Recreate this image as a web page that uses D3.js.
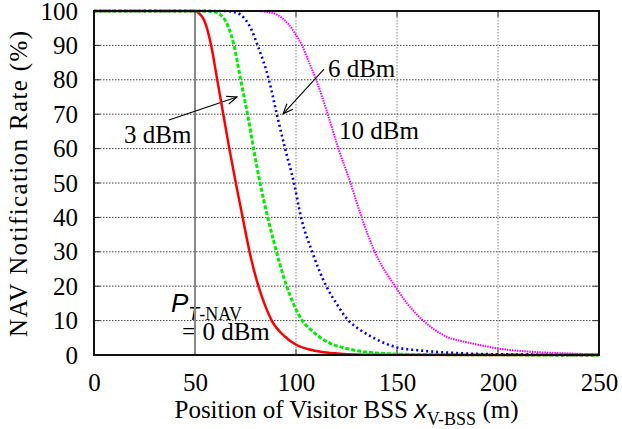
<!DOCTYPE html>
<html><head><meta charset="utf-8">
<script src="https://cdn.jsdelivr.net/npm/d3@7"></script>
<style>body{margin:0;background:#fff}svg{display:block}</style>
</head><body><svg id="c" width="622" height="429"></svg>
<script>
const xTicks = [0, 50, 100, 150, 200, 250];
const yTicks = [0, 10, 20, 30, 40, 50, 60, 70, 80, 90, 100];

const x0dBm = [0, 50, 52, 54.5, 58, 61, 64, 67, 70.2, 73.6, 77, 81.4, 84.3, 88, 94.6, 100.3, 107.8, 115, 125, 140, 250];
const y0dBm = [100, 100, 99.3, 97.4, 90, 80, 70, 60, 50, 40, 30, 20, 15, 10, 5.3, 2.9, 1.45, 0.7, 0.25, 0.05, 0];

const x3dBm = [0, 55, 60, 62.4, 66.5, 69.3, 72.6, 76, 79, 82.2, 86, 88.8, 95.4, 103.1, 108, 112, 117, 125, 133, 142, 160, 250];
const y3dBm = [100, 100, 99.7, 99, 95.4, 90, 80, 70, 60, 50, 40, 33.4, 20, 10, 7, 5.1, 3.4, 1.9, 1, 0.5, 0.15, 0];

const x6dBm = [0, 65, 70.6, 75, 78, 81, 86.6, 90.5, 94.6, 99, 102.5, 108, 115, 120, 126, 132, 138, 150, 160, 175, 200, 250];
const y6dBm = [100, 100, 99.5, 97.5, 94.5, 90, 80, 70, 60, 50, 40, 30, 20, 15, 10, 7.2, 5.1, 2.2, 1.4, 0.7, 0.2, 0];

const x10dBm = [0, 80, 88, 93, 96.5, 99.5, 103, 106.5, 110, 115.7, 121, 127, 132.5, 139, 149, 155, 163, 174.6, 183, 190, 200, 215, 232, 250];
const y10dBm = [100, 100, 99.5, 98, 96, 93.5, 90, 85, 80, 70, 60, 50, 40, 30, 20, 15, 10, 5.3, 3.9, 3, 1.9, 1, 0.5, 0.2];

const seriesNames = ["0 dBm", "3 dBm", "6 dBm", "10 dBm"];
const seriesX = [x0dBm, x3dBm, x6dBm, x10dBm];
const seriesY = [y0dBm, y3dBm, y6dBm, y10dBm];
const seriesColor = ["#ff0000", "#00ee00", "#0000ff", "#ff00ff"];
const seriesDash = [null, "4,2", "2,3", "1.5,1"];
const seriesWidth = [2.5, 3, 2.6, 2];

// annotation text positions & arrows in data units
const labels = [
  {t: "3 dBm", x: 14.9, y: 61.6},
  {t: "6 dBm", x: 115.8, y: 80.8},
  {t: "10 dBm", x: 121.3, y: 62.8}
];
const arrows = [
  {x1: 37.1, y1: 68.3, x2: 70.8, y2: 75.0},
  {x1: 113.9, y1: 83.1, x2: 93.6, y2: 70.1}
];

const SERIF = "Liberation Serif, Times New Roman, serif";
const SANS = "Liberation Sans, Arial, sans-serif";
const FS = 25;

const svg = d3.select("#c");
const L = 94, R = 599, T = 11, B = 355;
const x = d3.scaleLinear().domain([0, 250]).range([L, R]);
const y = d3.scaleLinear().domain([0, 100]).range([B, T]);

svg.append("defs").append("marker")
  .attr("id", "ah").attr("viewBox", "0 0 12 10").attr("refX", 11).attr("refY", 5)
  .attr("markerWidth", 12).attr("markerHeight", 10).attr("markerUnits", "userSpaceOnUse")
  .attr("orient", "auto")
  .append("path").attr("d", "M1,1 L11,5 L1,9").attr("fill", "none").attr("stroke", "#000").attr("stroke-width", 1.1);

// grid
svg.append("g").selectAll("line").data(yTicks.filter(d => d > 0 && d < 100)).join("line")
  .attr("x1", L).attr("x2", R).attr("y1", d => y(d)).attr("y2", d => y(d))
  .attr("stroke", "#444").attr("stroke-width", 1).attr("stroke-dasharray", "1.5,1.5");
svg.append("g").selectAll("line").data(xTicks.filter(d => d > 50 && d < 250)).join("line")
  .attr("x1", d => x(d)).attr("x2", d => x(d)).attr("y1", T).attr("y2", B)
  .attr("stroke", "#888").attr("stroke-width", 1).attr("stroke-dasharray", "1.5,1.5");

// ticks on all sides (inward)
const tk = svg.append("g").attr("stroke", "#333").attr("stroke-width", 1);
yTicks.forEach(d => {
  tk.append("line").attr("x1", L).attr("x2", L + 6).attr("y1", y(d)).attr("y2", y(d));
  tk.append("line").attr("x1", R).attr("x2", R - 6).attr("y1", y(d)).attr("y2", y(d));
});
xTicks.forEach(d => {
  tk.append("line").attr("x1", x(d)).attr("x2", x(d)).attr("y1", B).attr("y2", B - 6);
  tk.append("line").attr("x1", x(d)).attr("x2", x(d)).attr("y1", T).attr("y2", T + 6);
});

// annotation texts
const ann = svg.append("g").attr("fill", "#000").attr("font-family", SERIF).attr("font-size", FS);
labels.forEach(l => ann.append("text").attr("x", x(l.x)).attr("y", y(l.y)).text(l.t));
const pt = ann.append("text").attr("x", x(38.1)).attr("y", y(12.5));
pt.append("tspan").attr("font-family", SANS).attr("font-style", "italic").attr("font-size", 26).text("P");
pt.append("tspan").attr("font-family", SANS).attr("font-style", "italic").attr("font-size", 18).attr("dy", 8).text("T");
pt.append("tspan").attr("font-size", 18).text("-NAV");
ann.append("text").attr("x", x(43.6)).attr("y", y(4.4)).text("= 0 dBm");

// line at x=50
svg.append("line").attr("x1", x(50)).attr("x2", x(50)).attr("y1", T).attr("y2", B)
  .attr("stroke", "#888").attr("stroke-width", 2);

// arrows
svg.append("g").selectAll("line").data(arrows).join("line")
  .attr("x1", d => x(d.x1)).attr("y1", d => y(d.y1)).attr("x2", d => x(d.x2)).attr("y2", d => y(d.y2))
  .attr("stroke", "#000").attr("stroke-width", 1.1).attr("marker-end", "url(#ah)");

// curves
const line = d3.line().x(d => x(d[0])).y(d => y(d[1])).curve(d3.curveMonotoneX);
seriesNames.forEach((n, i) => {
  const pts = seriesX[i].map((v, j) => [v, seriesY[i][j]]);
  const p = svg.append("path").datum(pts).attr("d", line)
    .attr("fill", "none").attr("stroke", seriesColor[i]).attr("stroke-width", seriesWidth[i]);
  if (seriesDash[i]) p.attr("stroke-dasharray", seriesDash[i]);
});

// frame
svg.append("rect").attr("x", L).attr("y", T).attr("width", R - L).attr("height", B - T)
  .attr("fill", "none").attr("stroke", "#111").attr("stroke-width", 2);

// axes labels
const ax = svg.append("g").attr("transform", `translate(0,${B})`)
  .call(d3.axisBottom(x).tickValues(xTicks).tickSize(0).tickPadding(18).tickFormat(d3.format("d")));
const ay = svg.append("g").attr("transform", `translate(${L},0)`)
  .call(d3.axisLeft(y).tickValues(yTicks).tickSize(0).tickPadding(16).tickFormat(d3.format("d")));
[ax, ay].forEach(g => {
  g.attr("font-family", SERIF).attr("font-size", FS);
  g.select(".domain").remove();
  g.selectAll("text").attr("fill", "#000");
});

// axis titles
const xt = svg.append("text").attr("x", (L + R) / 2).attr("y", 418).attr("text-anchor", "middle")
  .attr("font-family", SERIF).attr("font-size", FS).attr("fill", "#000");
xt.append("tspan").text("Position of Visitor BSS ");
xt.append("tspan").attr("font-family", SANS).attr("font-style", "italic").text("x");
xt.append("tspan").attr("font-size", 18).attr("dy", 7).text("V-BSS");
xt.append("tspan").attr("dy", -7).text(" (m)");

svg.append("text").attr("transform", `translate(27,${(T + B) / 2 + 1}) rotate(-90)`)
  .attr("text-anchor", "middle").attr("font-family", SERIF).attr("font-size", FS).attr("fill", "#000")
  .attr("textLength", 306).attr("lengthAdjust", "spacing")
  .text("NAV Notification Rate (%)");
</script></body></html>
